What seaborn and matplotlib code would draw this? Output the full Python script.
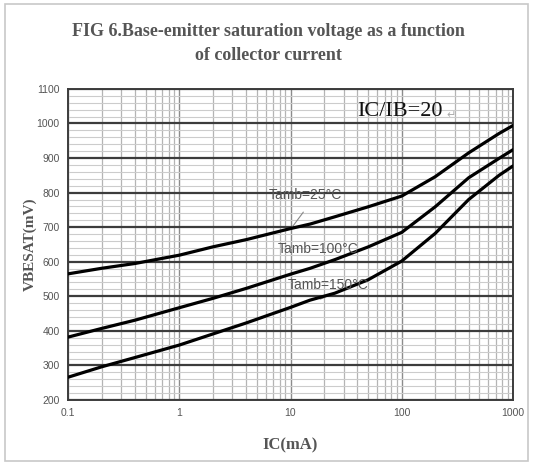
import numpy as np
import pandas as pd
import matplotlib
matplotlib.use("Agg")
import matplotlib.pyplot as plt
import seaborn as sns
from matplotlib.ticker import FixedLocator, MultipleLocator, NullFormatter, LogLocator
from matplotlib.patches import Rectangle

# ------------------------------
# Data (IC in mA, VBE(sat) in mV)
# ------------------------------
ic_ma = [0.1, 0.2, 0.4, 1, 2, 4, 10, 15, 25, 50, 100, 200, 400, 750, 1000]
vbe_25 = [565, 581, 595, 619, 643, 664, 696, 709, 730, 759, 790, 846, 915, 971, 994]
vbe_100 = [382, 407, 431, 467, 494, 523, 564, 581, 606, 643, 685, 759, 843, 899, 924]
vbe_150 = [266, 296, 323, 359, 391, 423, 468, 489, 509, 548, 602, 682, 780, 850, 877]
series_names = ["Tamb=25°C", "Tamb=100°C", "Tamb=150°C"]

x_ticks = [0.1, 1, 10, 100, 1000]
x_ticklabels = ["0.1", "1", "10", "100", "1000"]
y_ticks = list(range(200, 1101, 100))

df = pd.concat([
    pd.DataFrame({"IC": ic_ma, "VBE": v, "curve": name})
    for v, name in zip([vbe_25, vbe_100, vbe_150], series_names)
])

# ------------------------------
# Plot
# ------------------------------
sns.set_style("white")
fig = plt.figure(figsize=(5.36, 4.63), dpi=100)
ax = fig.add_axes([0.127, 0.136, 0.830, 0.672])

sns.lineplot(data=df, x="IC", y="VBE", hue="curve", palette=["black"] * 3,
             linewidth=2.3, legend=False, ax=ax, zorder=5)

ax.set_xscale("log")
ax.set_xlim(0.1, 1000)
ax.set_ylim(200, 1100)

ax.xaxis.set_major_locator(FixedLocator(x_ticks))
ax.set_xticklabels(x_ticklabels)
ax.xaxis.set_minor_locator(LogLocator(base=10, subs=np.arange(2, 10)))
ax.xaxis.set_minor_formatter(NullFormatter())
ax.yaxis.set_major_locator(FixedLocator(y_ticks))
ax.yaxis.set_minor_locator(MultipleLocator(20))

# grid lines
ax.grid(which="major", axis="y", color="#3c3c3c", linewidth=1.6, zorder=2)
ax.grid(which="minor", axis="y", color="#cccccc", linewidth=0.8, zorder=1)
ax.grid(which="major", axis="x", color="#8c8c8c", linewidth=1.0, zorder=2)
ax.grid(which="minor", axis="x", color="#b4b4b4", linewidth=0.9, zorder=1)
ax.set_axisbelow(True)

for s in ax.spines.values():
    s.set_color("#3c3c3c")
    s.set_linewidth(1.4)

ax.tick_params(which="both", length=0, labelsize=7.5, labelcolor="#555555", pad=6)
for lab in ax.get_xticklabels() + ax.get_yticklabels():
    lab.set_family("Liberation Sans")

ax.set_xlabel("IC(mA)", family="Liberation Serif", weight="bold", fontsize=12,
              color="#555555", labelpad=14)
ax.set_ylabel("VBESAT(mV)", family="Liberation Serif", weight="bold", fontsize=11,
              color="#555555", labelpad=0)

# ------------------------------
# Annotations
# ------------------------------
lab_kw = dict(family="Liberation Sans", fontsize=10, color="#555555", ha="center",
              va="center", zorder=6)
ax.text(13.5, 792, series_names[0], **lab_kw)
ax.annotate("", xy=(9.9, 692), xytext=(13.5, 750),
            arrowprops=dict(arrowstyle="-", color="#888888", lw=0.8))
ax.text(17.7, 636, series_names[1], **lab_kw)
ax.text(21.8, 532, series_names[2], **lab_kw)
ax.annotate("", xy=(17.5, 489), xytext=(21.5, 500),
            arrowprops=dict(arrowstyle="-", color="#888888", lw=0.8))

ax.text(40, 1034, "IC/IB=20", family="Liberation Serif", fontsize=16,
        color="#111111", ha="left", va="center", zorder=6)
ax.text(255, 1024, "↵", fontsize=8, color="#aaaaaa", ha="left", va="center", zorder=6)

fig.text(0.5, 0.906, "FIG 6.Base-emitter saturation voltage as a function\nof collector current",
         family="Liberation Serif", weight="bold", fontsize=13, color="#555555",
         ha="center", va="center", linespacing=1.5)

fig.patches.append(Rectangle((0.009, 0.004), 0.976, 0.987, transform=fig.transFigure,
                             fill=False, edgecolor="#c8c8c8", linewidth=1.2))

fig.savefig("out.png", dpi=100)
